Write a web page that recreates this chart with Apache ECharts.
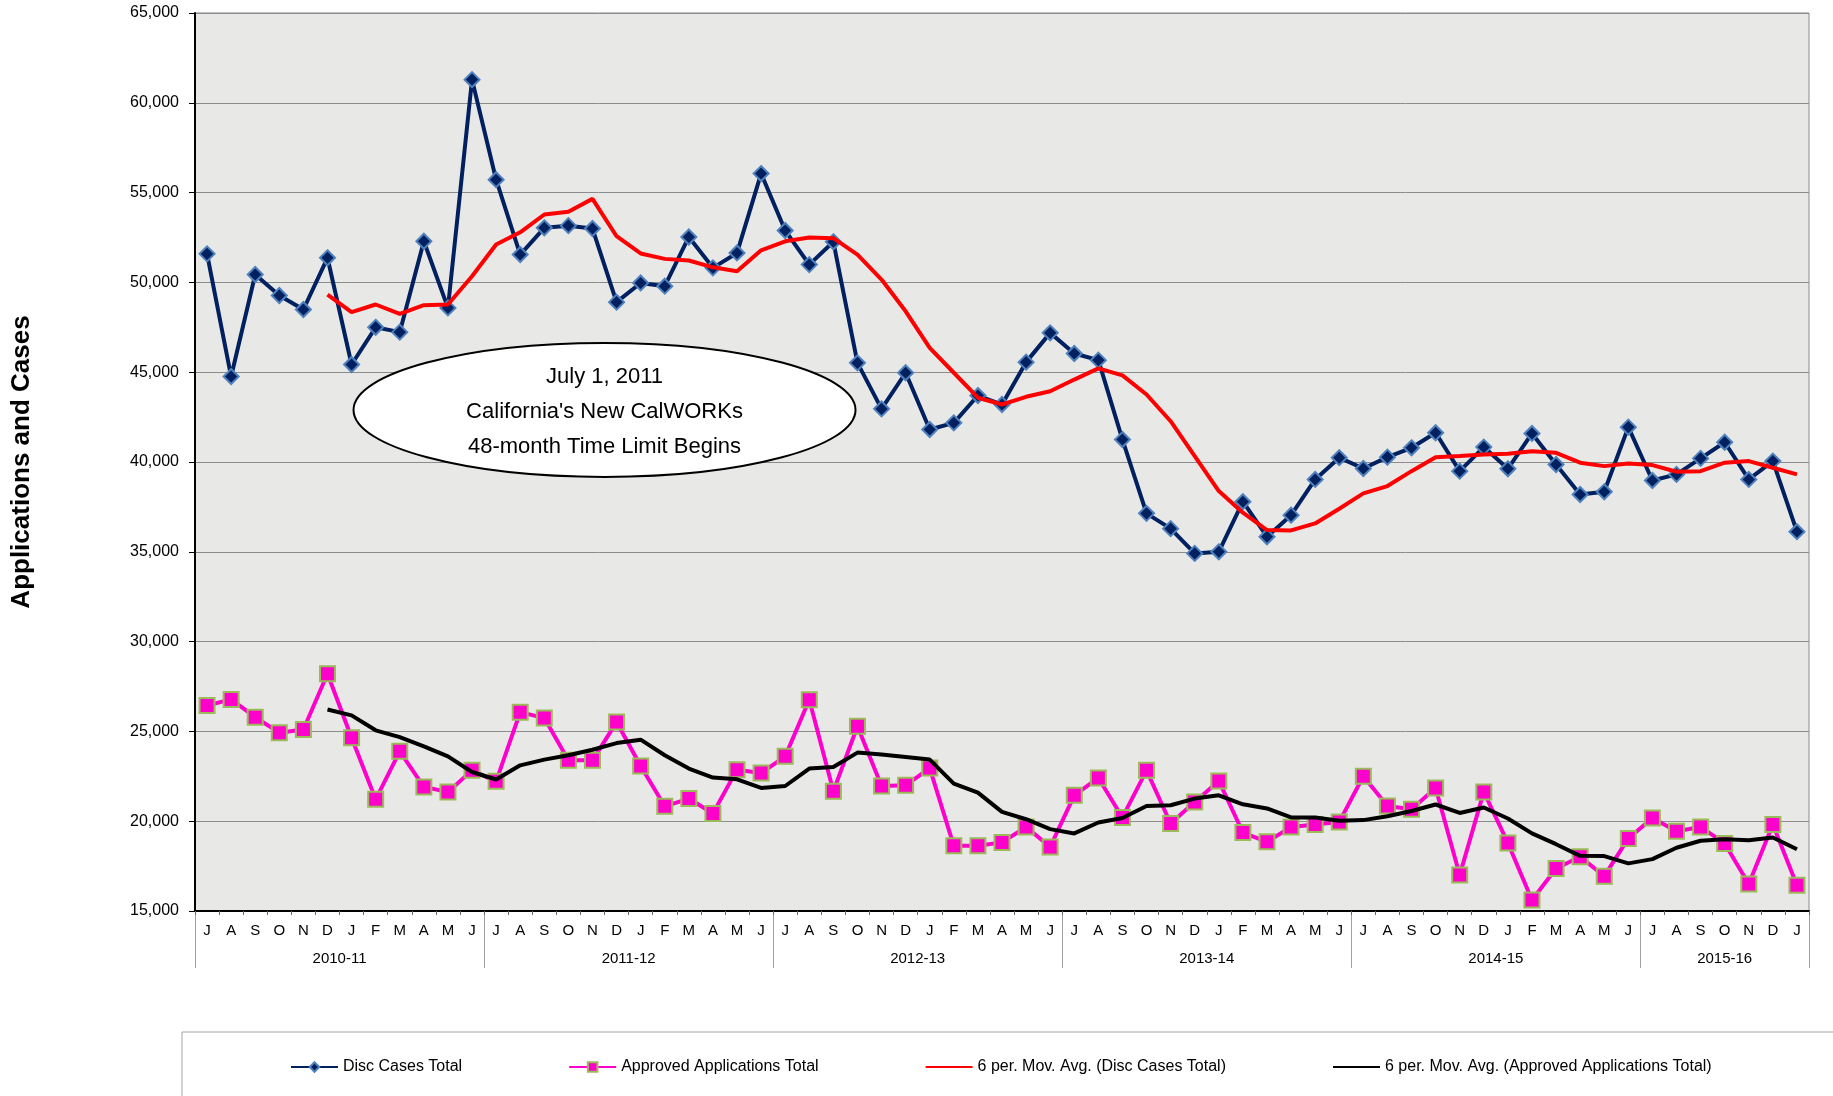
<!DOCTYPE html>
<html>
<head>
<meta charset="utf-8">
<script src="https://cdn.jsdelivr.net/npm/echarts@6/dist/echarts.min.js"></script>
<style>
html,body{margin:0;padding:0;background:#fff;}
#main{width:1833px;height:1096px;}
</style>
</head>
<body>
<div id="main"></div>
<script>
// ---- Data ----
const fiscalYears = ['2010-11', '2011-12', '2012-13', '2013-14', '2014-15', '2015-16'];
const monthsPerYear = [12, 12, 12, 12, 12, 7];
const monthLetters = ['J', 'A', 'S', 'O', 'N', 'D', 'J', 'F', 'M', 'A', 'M', 'J'];
const monthNames = ['Jul', 'Aug', 'Sep', 'Oct', 'Nov', 'Dec', 'Jan', 'Feb', 'Mar', 'Apr', 'May', 'Jun'];

const discCases = [
  51590, 44760, 50440, 49270, 48490, 51370, 45430, 47500, 47230, 52290, 48580, 61290,
  55720, 51550, 53040, 53160, 53000, 48900, 49970, 49790, 52530, 50810, 51640, 56060,
  52890, 50990, 52260, 45520, 42960, 44970, 41810, 42180, 43700, 43200, 45560, 47190,
  46040, 45670, 41250, 37140, 36290, 34910, 35000, 37790, 35840, 37040, 39030, 40240,
  39640, 40270, 40790, 41630, 39490, 40830, 39620, 41590, 39860, 38190, 38340, 41940,
  38970, 39310, 40200, 41100, 39030, 40050, 36120
];
const approvedApps = [
  26440, 26780, 25790, 24930, 25110, 28210, 24650, 21220, 23890, 21910, 21630, 22830,
  22220, 26070, 25740, 23390, 23390, 25520, 23070, 20830, 21260, 20430, 22870, 22680,
  23610, 26760, 21670, 25290, 21960, 22000, 22960, 18630, 18630, 18820, 19680, 18570,
  21440, 22410, 20210, 22830, 19870, 21070, 22240, 19370, 18850, 19680, 19820, 19960,
  22500, 20850, 20670, 21850, 17000, 21630, 18790, 15610, 17370, 18020, 16940, 19040,
  20180, 19440, 19680, 18760, 16500, 19820, 16440
];
const discMovAvg = [
  null, null, null, null, null, 49320, 48340, 48770, 48250, 48730, 48770, 50340,
  52110, 52790, 53780, 53930, 54650, 52570, 51610, 51310, 51220, 50840, 50620, 51790,
  52290, 52500, 52460, 51550, 50160, 48390, 46360, 44970, 43580, 43200, 43630, 43940,
  44590, 45210, 44820, 43760, 42270, 40330, 38380, 37180, 36210, 36190, 36580, 37400,
  38250, 38660, 39490, 40270, 40330, 40420, 40460, 40600, 40510, 39960, 39770, 39920,
  39830, 39460, 39490, 39960, 40050, 39680, 39310
];
const approvedMovAvg = [
  null, null, null, null, null, 26220, 25890, 25060, 24680, 24170, 23610, 22740,
  22320, 23110, 23430, 23670, 23980, 24350, 24540, 23670, 22930, 22430, 22330, 21850,
  21960, 22930, 23020, 23820, 23710, 23570, 23430, 22090, 21590, 20520, 20110, 19560,
  19320, 19930, 20180, 20850, 20890, 21260, 21440, 20940, 20710, 20210, 20210, 20020,
  20060, 20280, 20570, 20930, 20460, 20760, 20150, 19320, 18720, 18070, 18060, 17650,
  17890, 18520, 18910, 19000, 18940, 19090, 18440
];
const yTicks = { min: 15000, max: 65000, interval: 5000 };
const seriesNames = ['Disc Cases Total', 'Approved Applications Total',
  '6 per. Mov. Avg. (Disc Cases Total)', '6 per. Mov. Avg. (Approved Applications Total)'];
const annotationLines = ['July 1, 2011', "California's New CalWORKs", '48-month Time Limit Begins'];
const yAxisTitle = 'Applications and Cases';

// ---- Derived category structure ----
const categories = [];
const categoryLetters = [];
const groupBounds = [0];
const groupCenters = [];
fiscalYears.forEach((fy, g) => {
  const startYear = 2010 + g;
  for (let m = 0; m < monthsPerYear[g]; m++) {
    const yr = m < 6 ? startYear : startYear + 1;
    categories.push(monthNames[m] + ' ' + yr);
    categoryLetters.push(monthLetters[m]);
  }
  const start = groupBounds[groupBounds.length - 1];
  groupCenters.push(start + monthsPerYear[g] / 2);
  groupBounds.push(start + monthsPerYear[g]);
});
const nCat = categories.length;

const FONT = '"Liberation Sans", Arial, sans-serif';
const chart = echarts.init(document.getElementById('main'), null, { renderer: 'canvas' });

const option = {
  animation: false,
  backgroundColor: '#ffffff',
  textStyle: { fontFamily: FONT, color: '#000' },
  grid: {
    left: 195, right: 24, top: 13, bottom: 185,
    show: true, backgroundColor: '#e8e8e6', borderColor: '#8a8a8a', borderWidth: 1
  },
  legend: {
    left: 290, top: 1059, padding: 0,
    itemGap: 106, itemWidth: 47, itemHeight: 12,
    textStyle: { fontSize: 16, color: '#000', fontFamily: FONT },
    data: [
      { name: seriesNames[0] },
      { name: seriesNames[1] },
      { name: seriesNames[2], itemStyle: { opacity: 0 } },
      { name: seriesNames[3], itemStyle: { opacity: 0 } }
    ]
  },
  xAxis: [
    {
      type: 'category', data: categories, boundaryGap: true, position: 'bottom',
      axisLine: { show: true, lineStyle: { color: '#000', width: 2 } },
      axisTick: { show: true, interval: 0, length: 4, lineStyle: { color: '#666' } },
      axisLabel: {
        interval: 0, margin: 12, fontSize: 15, color: '#000', fontFamily: FONT,
        formatter: (v, i) => categoryLetters[i]
      },
      splitLine: { show: false }, z: 5
    },
    {
      type: 'value', min: 0, max: nCat, position: 'bottom',
      axisLine: { show: false },
      axisTick: { show: true, customValues: groupBounds, length: 57, inside: false, lineStyle: { color: '#a0a0a0', width: 1 } },
      axisLabel: {
        show: true, customValues: groupCenters, margin: 40, fontSize: 15, color: '#000', fontFamily: FONT,
        formatter: (v) => { const k = groupCenters.indexOf(v); return k >= 0 ? fiscalYears[k] : ''; }
      },
      splitLine: { show: false }
    }
  ],
  yAxis: {
    type: 'value', min: yTicks.min, max: yTicks.max, interval: yTicks.interval,
    name: yAxisTitle, nameLocation: 'middle', nameRotate: 90, nameGap: 160,
    nameTextStyle: { fontSize: 26, fontWeight: 'bold', color: '#000', fontFamily: FONT },
    axisLine: { show: true, lineStyle: { color: '#000', width: 2 } },
    axisTick: { show: true, length: 6, lineStyle: { color: '#000' } },
    axisLabel: {
      fontSize: 16, margin: 16, color: '#000', fontFamily: FONT,
      formatter: (v) => v.toLocaleString('en-US')
    },
    splitLine: { show: true, lineStyle: { color: '#8c8c8c', width: 1 } }
  },
  series: [
    {
      name: seriesNames[0], type: 'line', data: discCases, xAxisIndex: 0,
      symbol: 'diamond', symbolSize: 15, z: 2,
      lineStyle: { color: '#002060', width: 4 },
      itemStyle: { color: '#002060', borderColor: '#4f81bd', borderWidth: 2 }
    },
    {
      name: seriesNames[1], type: 'line', data: approvedApps, xAxisIndex: 0,
      symbol: 'rect', symbolSize: 15, z: 2,
      lineStyle: { color: '#ff00cc', width: 4 },
      itemStyle: { color: '#ff00cc', borderColor: '#9bbb59', borderWidth: 2 }
    },
    {
      name: seriesNames[2], type: 'line', data: discMovAvg, xAxisIndex: 0,
      showSymbol: false, symbol: 'none', z: 3,
      lineStyle: { color: '#ff0000', width: 4 },
      itemStyle: { color: '#ff0000' }
    },
    {
      name: seriesNames[3], type: 'line', data: approvedMovAvg, xAxisIndex: 0,
      showSymbol: false, symbol: 'none', z: 3,
      lineStyle: { color: '#000000', width: 4 },
      itemStyle: { color: '#000000' }
    }
  ],
  graphic: [
    {
      id: 'legendBox', type: 'rect', z: -10, silent: true,
      shape: { x: 182, y: 1032, width: 1720, height: 120 },
      style: { fill: '#ffffff', stroke: '#a6a6a6', lineWidth: 1 }
    }
  ]
};
chart.setOption(option);

// Annotation ellipse anchored to data coordinates (category position 17, value 42,900)
const c = chart.convertToPixel({ xAxisIndex: 1, yAxisIndex: 0 }, [17, 42900]);
chart.setOption({
  graphic: [
    {
      id: 'annEllipse', type: 'ellipse', z: 20,
      shape: { cx: c[0], cy: c[1], rx: 251, ry: 67 },
      style: { fill: '#ffffff', stroke: '#000000', lineWidth: 2 }
    },
    {
      id: 'annText', type: 'text', z: 21,
      x: c[0], y: c[1] + 2,
      style: {
        text: annotationLines.join('\n'), fill: '#000', font: '22px ' + FONT,
        align: 'center', verticalAlign: 'middle', lineHeight: 35
      }
    }
  ]
});
</script>
</body>
</html>
